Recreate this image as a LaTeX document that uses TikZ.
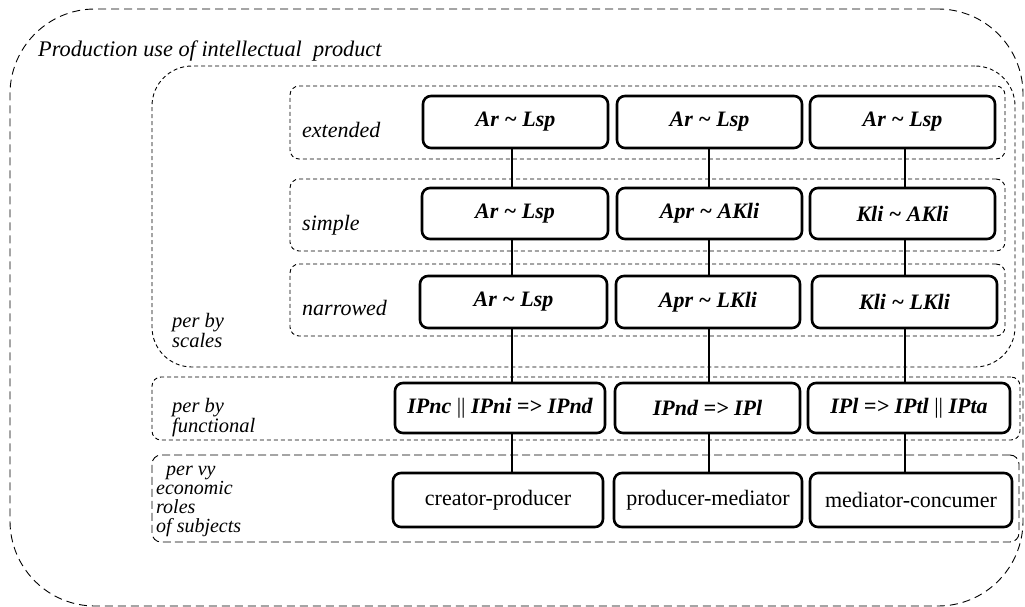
\documentclass[tikz,border=0pt]{standalone}
\usepackage{fontspec}
\setmainfont{Liberation Serif}[
  BoldFont={* Bold},
  ItalicFont={* Italic},
  BoldItalicFont={* Bold Italic}]
\begin{document}
\begin{tikzpicture}[x=1pt,y=-1pt,
  region/.style={draw,line width=0.9pt,dash pattern=on 4pt off 3pt,rounded corners=9pt,inner sep=0pt},
  bigregion/.style={draw,line width=0.9pt,dash pattern=on 8pt off 5pt,inner sep=0pt},
  box/.style={draw,line width=2.6pt,rounded corners=8pt,inner sep=0pt,font=\fontsize{22}{24}\selectfont\bfseries\itshape},
  rolebox/.style={draw,line width=2.6pt,rounded corners=8pt,inner sep=0pt,font=\fontsize{22}{24}\selectfont},
  lbl/.style={anchor=base west,inner sep=0pt,font=\fontsize{22}{24}\selectfont\itshape},
  slbl/.style={anchor=base west,inner sep=0pt,font=\fontsize{20.5}{22}\selectfont\itshape},
  link/.style={line width=2pt}
]
\useasboundingbox (0,0) rectangle (1025,607);
% regions
\node[bigregion,rounded corners=85pt,minimum width=1013pt,minimum height=597pt] (outer) at (516.5,307.5) {};
\node[region,rounded corners=40pt,minimum width=863pt,minimum height=301pt] (scales) at (583.5,216.5) {};
\node[region,minimum width=715pt,minimum height=73pt] (ext) at (647.5,122.5) {};
\node[region,minimum width=715pt,minimum height=72pt] (sim) at (647.5,215) {};
\node[region,minimum width=715pt,minimum height=72pt] (nar) at (647.5,300) {};
\node[region,minimum width=868pt,minimum height=63pt] (func) at (586,408.5) {};
\node[region,dash pattern=on 8pt off 4pt,minimum width=867pt,minimum height=87pt] (econ) at (585.5,498.5) {};
% labels
\node[lbl,font=\fontsize{22.3}{24}\selectfont\itshape] (title) at (38,57) {Production use of intellectual\ \ product};
\node[lbl] (lext) at (302,138) {extended};
\node[lbl] (lsim) at (302,230) {simple};
\node[lbl] (lnar) at (302,315) {narrowed};
\node[slbl] (ls1) at (172,327) {per by};
\node[slbl] (ls2) at (172,347) {scales};
\node[slbl] (lf1) at (172,412) {per by};
\node[slbl] (lf2) at (172,432) {functional};
\node[slbl,font=\fontsize{20}{22}\selectfont\itshape] (le1) at (166,475) {per vy};
\node[slbl,font=\fontsize{20}{22}\selectfont\itshape] (le2) at (156,494) {economic};
\node[slbl,font=\fontsize{20}{22}\selectfont\itshape] (le3) at (156,513) {roles};
\node[slbl,font=\fontsize{20}{22}\selectfont\itshape] (le4) at (156,532) {of subjects};
% row 1
\node[box,minimum width=185pt,minimum height=52pt] (a1) at (515.5,122) {Ar \char`\~{} Lsp};
\node[box,minimum width=185pt,minimum height=52pt] (a2) at (709.5,122) {Ar \char`\~{} Lsp};
\node[box,minimum width=185pt,minimum height=52pt] (a3) at (902.5,122) {Ar \char`\~{} Lsp};
% row 2
\node[box,minimum width=186pt,minimum height=51pt] (b1) at (515,213.5) {Ar \char`\~{} Lsp};
\node[box,minimum width=185pt,minimum height=51pt] (b2) at (709.5,213.5) {Apr \char`\~{} AKli};
\node[box,minimum width=185pt,minimum height=51pt] (b3) at (902.5,213.5) {Kli \char`\~{} AKli};
% row 3
\node[box,minimum width=187pt,minimum height=52pt] (c1) at (513.5,302) {Ar \char`\~{} Lsp};
\node[box,minimum width=184pt,minimum height=52pt] (c2) at (708,302) {Apr \char`\~{} LKli};
\node[box,minimum width=185pt,minimum height=52pt] (c3) at (904.5,302) {Kli \char`\~{} LKli};
% functional
\node[box,minimum width=210pt,minimum height=50pt] (d1) at (500,408) {IPnc {\upshape\mdseries||} IPni =\kern0pt> IPnd};
\node[box,minimum width=185pt,minimum height=50pt] (d2) at (707.5,408) {IPnd =\kern0pt> IPl};
\node[box,minimum width=202pt,minimum height=50pt] (d3) at (909,408) {IPl =\kern0pt> IPtl {\upshape\mdseries||} IPta};
% economic roles
\node[rolebox,minimum width=210pt,minimum height=54pt] (e1) at (498,500) {creator-producer};
\node[rolebox,minimum width=188pt,minimum height=54pt] (e2) at (708,500) {producer-mediator};
\node[rolebox,minimum width=202pt,minimum height=54pt] (e3) at (911,500) {mediator-concumer};
% column guides
\coordinate (k1) at (512,0);
\coordinate (k2) at (709,0);
\coordinate (k3) at (905,0);
% connectors
\foreach \u/\v/\k in {a1/b1/k1,b1/c1/k1,c1/d1/k1,d1/e1/k1,
                      a2/b2/k2,b2/c2/k2,c2/d2/k2,d2/e2/k2,
                      a3/b3/k3,b3/c3/k3,c3/d3/k3,d3/e3/k3}
  \draw[link] (\u.south -| \k) -- (\v.north -| \k);
\end{tikzpicture}
\end{document}
